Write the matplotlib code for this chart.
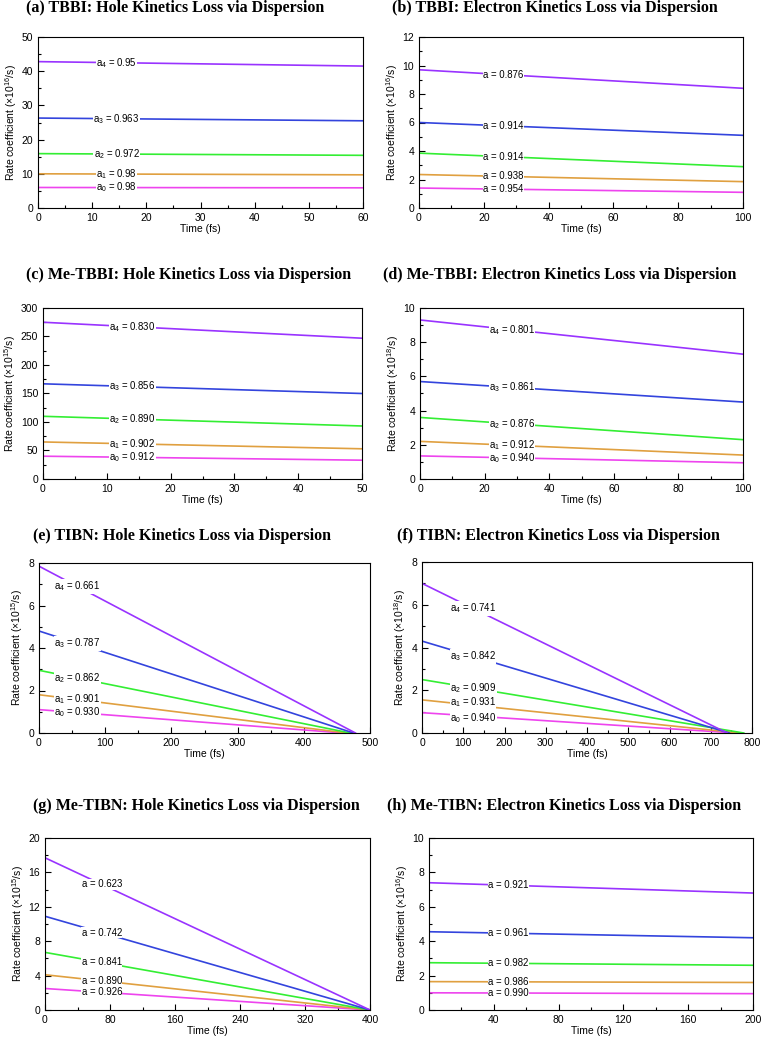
import numpy as np
import matplotlib
matplotlib.use("Agg")
import matplotlib.pyplot as plt
from matplotlib.ticker import MultipleLocator

plt.rcParams['font.family'] = ['Liberation Sans', 'DejaVu Sans']
plt.rcParams['mathtext.fontset'] = 'custom'
plt.rcParams['mathtext.rm'] = 'Liberation Sans'
plt.rcParams['mathtext.it'] = 'Liberation Sans'

W, H = 763, 1041

colors = ['#ee44ee', '#e0a040', '#33ee33', '#3344dd', '#9933ff']  # a0 .. a4

# panel data: titles, axis limits, line start / end values, labels
titles = ["(a) TBBI: Hole Kinetics Loss via Dispersion",
          "(b) TBBI: Electron Kinetics Loss via Dispersion",
          "(c) Me-TBBI: Hole Kinetics Loss via Dispersion",
          "(d) Me-TBBI: Electron Kinetics Loss via Dispersion",
          "(e) TIBN: Hole Kinetics Loss via Dispersion",
          "(f) TIBN: Electron Kinetics Loss via Dispersion",
          "(g) Me-TIBN: Hole Kinetics Loss via Dispersion",
          "(h) Me-TIBN: Electron Kinetics Loss via Dispersion"]
exponents = [16, 16, 15, 18, 15, 18, 15, 16]
xmax = [60, 100, 50, 100, 500, 800, 400, 200]
ymax = [50, 12, 300, 10, 8, 8, 20, 10]
xmajor = [10, 20, 10, 20, 100, 100, 80, 40]
ymajor = [10, 2, 50, 2, 2, 2, 4, 2]

# start value at t=0 (a0..a4)
y_start = [[6.0, 10.0, 15.9, 26.3, 42.8],
           [1.4, 2.35, 3.85, 6.0, 9.7],
           [40, 65, 110, 167, 275],
           [1.35, 2.2, 3.6, 5.7, 9.3],
           [1.1, 1.8, 2.95, 4.8, 7.85],
           [0.95, 1.55, 2.5, 4.3, 7.0],
           [2.5, 4.1, 6.7, 10.9, 17.7],
           [1.0, 1.65, 2.75, 4.55, 7.4]]
# end time of each line
x_end = [[60] * 5,
         [100] * 5,
         [50] * 5,
         [100] * 5,
         [460, 465, 470, 475, 478],
         [760, 770, 780, 745, 740],
         [400] * 5,
         [200] * 5]
# value at end time
y_end = [[5.9, 9.7, 15.4, 25.5, 41.5],
         [1.1, 1.85, 2.9, 5.1, 8.4],
         [33, 53, 93, 150, 247],
         [0.95, 1.4, 2.3, 4.5, 7.3],
         [0, 0, 0, 0, 0],
         [0, 0, 0, 0, 0],
         [0, 0, 0, 0, 0],
         [0.95, 1.6, 2.6, 4.2, 6.8]]
labels = [["a$_0$ = 0.98", "a$_1$ = 0.98", "a$_2$ = 0.972", "a$_3$ = 0.963", "a$_4$ = 0.95"],
          ["a = 0.954", "a = 0.938", "a = 0.914", "a = 0.914", "a = 0.876"],
          ["a$_0$ = 0.912", "a$_1$ = 0.902", "a$_2$ = 0.890", "a$_3$ = 0.856", "a$_4$ = 0.830"],
          ["a$_0$ = 0.940", "a$_1$ = 0.912", "a$_2$ = 0.876", "a$_3$ = 0.861", "a$_4$ = 0.801"],
          ["a$_0$ = 0.930", "a$_1$ = 0.901", "a$_2$ = 0.862", "a$_3$ = 0.787", "a$_4$ = 0.661"],
          ["a$_0$ = 0.940", "a$_1$ = 0.931", "a$_2$ = 0.909", "a$_3$ = 0.842", "a$_4$ = 0.741"],
          ["a = 0.926", "a = 0.890", "a = 0.841", "a = 0.742", "a = 0.623"],
          ["a = 0.990", "a = 0.986", "a = 0.982", "a = 0.961", "a = 0.921"]]
label_x = [14.5, 26, 14, 28.5, 58, 124, 70, 49]
# small vertical nudges of labels (fraction of y range), only where crowded
label_dy = {5: [-0.01, 0.02, 0, 0, 0]}

# axes boxes in pixels: left, top, right, bottom
boxes = [(38, 37, 363, 208), (419, 37, 743, 208),
         (43, 308, 362, 479), (420, 308, 743, 479),
         (39, 563, 370, 733), (422, 562, 752, 733),
         (45, 838, 370, 1010), (429, 838, 753, 1010)]
title_pos = [(26, 8), (392, 8), (26, 275), (383, 275),
             (33, 536), (397, 536), (33, 806), (387, 806)]

fig = plt.figure(figsize=(W / 100, H / 100), dpi=100)

for i in range(8):
    l, t, r, b = boxes[i]
    ax = fig.add_axes([l / W, 1 - b / H, (r - l) / W, (b - t) / H])
    for j in range(5):
        xs = [0, x_end[i][j]]
        ys = [y_start[i][j], y_end[i][j]]
        ax.plot(xs, ys, color=colors[j], lw=1.2, zorder=2)
        ly = np.interp(label_x[i], xs, ys) + label_dy.get(i, [0] * 5)[j] * ymax[i]
        ax.text(label_x[i], ly, labels[i][j], fontsize=6.9, ha='center', va='center',
                zorder=3, bbox=dict(facecolor='white', edgecolor='none', pad=0.2))
    ax.set_xlim(0, xmax[i])
    ax.set_ylim(0, ymax[i])
    ax.xaxis.set_major_locator(MultipleLocator(xmajor[i]))
    ax.xaxis.set_minor_locator(MultipleLocator(xmajor[i] / 2))
    ax.yaxis.set_major_locator(MultipleLocator(ymajor[i]))
    ax.yaxis.set_minor_locator(MultipleLocator(ymajor[i] / 2))
    ax.tick_params(which='both', direction='in', labelsize=7.5, width=0.8)
    ax.tick_params(which='major', length=4)
    ax.tick_params(which='minor', length=2.5)
    if i == 7:
        ax.set_xticks([40, 80, 120, 160, 200])
    for s in ax.spines.values():
        s.set_linewidth(0.8)
    ax.set_xlabel("Time (fs)", fontsize=7.5, labelpad=1)
    ax.set_ylabel("Rate coefficient (\u00d710$^{%d}$/s)" % exponents[i], fontsize=7.5, labelpad=2)
    tx, ty = title_pos[i]
    fig.text(tx / W, 1 - ty / H, titles[i], family='Liberation Serif', weight='bold',
             fontsize=11.5, ha='left', va='center')

fig.savefig("out.png", dpi=100)
